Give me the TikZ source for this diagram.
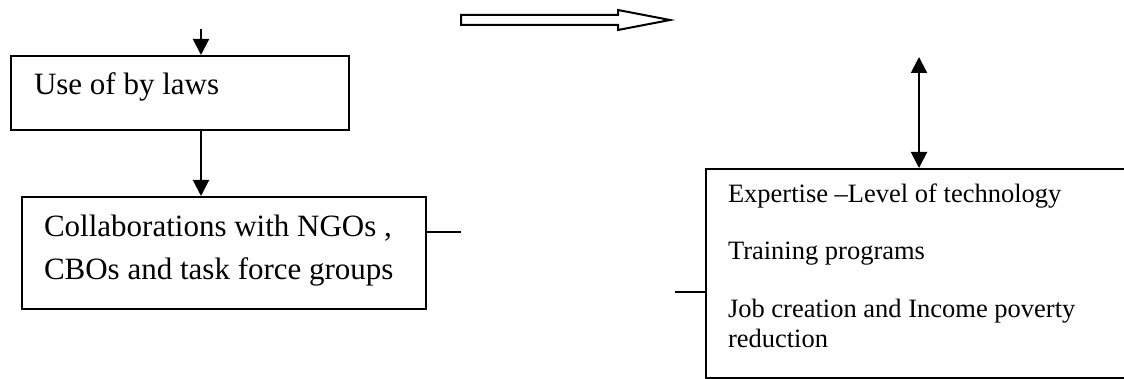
\documentclass[tikz,border=0pt]{standalone}
\usepackage{fontspec}
\setmainfont{Liberation Serif}
\usetikzlibrary{arrows.meta}
\begin{document}
\begin{tikzpicture}[x=0.5pt,y=-0.5pt, line width=1pt,
  box/.style={draw, rectangle, inner sep=0pt, line width=1pt},
  bigtxt/.style={anchor=base west, inner sep=0pt, font=\fontsize{15.5}{19}\selectfont},
  smalltxt/.style={anchor=base west, inner sep=0pt, font=\fontsize{13.25}{16}\selectfont},
  arr/.style={-{Triangle[length=8pt,width=8pt]}},
  darr/.style={{Triangle[length=8pt,width=8pt]}-{Triangle[length=8pt,width=8pt]}}]
\useasboundingbox (0,0) rectangle (1124,379);
\clip (0,0) rectangle (1124,379);

% boxes
\node[box, minimum width=169pt, minimum height=37pt] (b1) at (180,93) {};
\node[box, minimum width=202pt, minimum height=56pt] (b2) at (224,253) {};
\node[box, minimum width=217pt, minimum height=104.5pt] (b3) at (923,273.5) {};

% box texts
\node[bigtxt] (t1a) at (33,95) {Use of by laws};
\node[bigtxt] (t2a) at (43,237) {Collaborations with NGOs ,};
\node[bigtxt] (t2b) at (43,279) {CBOs and task force groups};
\node[smalltxt] (t3a) at (727,203) {Expertise –Level of technology};
\node[smalltxt] (t3b) at (727,260) {Training programs};
\node[smalltxt] (t3c) at (727,317) {Job creation and Income poverty};
\node[smalltxt] (t3d) at (727,347) {reduction};

% free ends of connectors
\coordinate (in1) at (201,29);
\coordinate (out2) at (461,232);
\coordinate (in3) at (675,292);
\coordinate (up3) at (919,57);

% connectors
\draw[arr] (in1) -- (in1 |- b1.north);
\draw[arr] (in1 |- b1.south) -- (in1 |- b2.north);
\draw (out2 -| b2.east) -- (out2);
\draw (in3) -- (in3 -| b3.west);
\draw[darr] (up3) -- (up3 |- b3.north);

% hollow block arrow
\draw[line width=1pt, line join=miter]
  (461,15) -- (618,15) -- (618,10) -- (670,20) -- (618,30) -- (618,25) -- (461,25) -- cycle;
\end{tikzpicture}
\end{document}
